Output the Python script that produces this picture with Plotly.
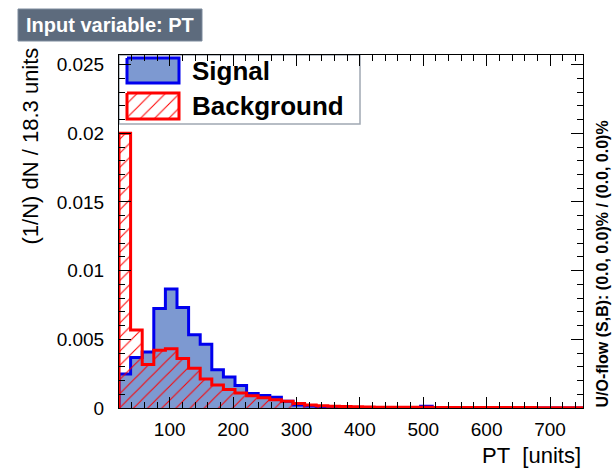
import numpy as np
import plotly.graph_objects as go

# ---- histogram definition: PT, 40 bins ----
x_min = 20.0
bin_width = 18.3
n_bins = 40

# normalised bin contents, (1/N) dN per bin
signal = [
    0.00248, 0.00368, 0.00408, 0.00724, 0.00866, 0.00732, 0.00534, 0.00464,
    0.00278, 0.00225, 0.00163, 0.00105, 0.00091, 0.00079, 0.00049, 0.00022,
    0.00014, 0.00010, 0.00008, 0.00004, 0.00003, 0.00003, 0.00002, 0.00002,
    0.00001, 0.00001, 0.00012, 0.00001, 0.00001, 0.00000, 0.00000, 0.00000,
    0.00000, 0.00000, 0.00000, 0.00000, 0.00000, 0.00000, 0.00000, 0.00000,
]
background = [
    0.02000, 0.00567, 0.00316, 0.00421, 0.00432, 0.00360, 0.00290, 0.00212,
    0.00168, 0.00134, 0.00110, 0.00090, 0.00075, 0.00060, 0.00049, 0.00032,
    0.00022, 0.00017, 0.00013, 0.00011, 0.00009, 0.00007, 0.00006, 0.00006,
    0.00005, 0.00005, 0.00005, 0.00004, 0.00004, 0.00004, 0.00004, 0.00003,
    0.00003, 0.00003, 0.00003, 0.00003, 0.00002, 0.00002, 0.00002, 0.00002,
]

x_tick_vals = [100, 200, 300, 400, 500, 600, 700]
x_tick_text = ["100", "200", "300", "400", "500", "600", "700"]
y_tick_vals = [0, 0.005, 0.01, 0.015, 0.02, 0.025]
y_tick_text = ["0", "0.005", "0.01", "0.015", "0.02", "0.025"]

legend_labels = ["Signal", "Background"]

# ---- page geometry and styling ----
W, H = 613, 472
M_L, M_R, M_T, M_B = 119, 30, 55, 64
FONT = "Liberation Sans, Arial, Helvetica, sans-serif"
SIG_FILL = "#7d99d1"
SIG_LINE = "#0000ee"
BKG_LINE = "#ff0000"
TITLE_BOX = "#5d6b7d"
TITLE_BORDER = "#7d8b9d"

edges = x_min + bin_width * np.arange(n_bins + 1)


def step_xy(values):
    """Outline of a histogram as an hv step path closed at the baseline."""
    xs = [edges[0]] + list(edges[:-1]) + [edges[-1], edges[-1]]
    ys = [0.0] + list(values) + [values[-1], 0.0]
    return xs, ys


def px(x):
    """Page pixel column -> paper x."""
    return (x - M_L) / (W - M_L - M_R)


def py(y):
    """Page pixel row -> paper y."""
    return 1 - (y - M_T) / (H - M_T - M_B)


hatch = dict(shape="/", fgcolor=BKG_LINE, bgcolor="rgba(0,0,0,0)",
             size=10, solidity=0.1, fillmode="replace")

fig = go.Figure()

sx, sy = step_xy(signal)
fig.add_trace(go.Scatter(
    x=sx, y=sy, mode="lines", line=dict(color=SIG_LINE, width=3, shape="hv"),
    fill="tozeroy", fillcolor=SIG_FILL, showlegend=False, hoverinfo="skip",
))

bx, by = step_xy(background)
fig.add_trace(go.Scatter(
    x=bx, y=by, mode="lines", line=dict(color=BKG_LINE, width=3, shape="hv"),
    fill="tozeroy", fillcolor="rgba(0,0,0,0)", fillpattern=hatch,
    showlegend=False, hoverinfo="skip",
))

# ---- legend swatches on pixel-space axes overlaying the frame ----
sw_x0, sw_x1 = 127, 179
swatches = [(58, 83), (93, 119)]
for i, (y0, y1) in enumerate(swatches):
    kw = dict(
        x=[sw_x0, sw_x1, sw_x1, sw_x0, sw_x0], y=[y0, y0, y1, y1, y0],
        xaxis="x2", yaxis="y2", mode="lines", fill="toself",
        showlegend=False, hoverinfo="skip",
    )
    if i == 0:
        kw.update(line=dict(color=SIG_LINE, width=3), fillcolor=SIG_FILL)
    else:
        kw.update(line=dict(color=BKG_LINE, width=3),
                  fillcolor="rgba(0,0,0,0)", fillpattern=hatch)
    fig.add_trace(go.Scatter(**kw))
    fig.add_annotation(
        text="<b>%s</b>" % legend_labels[i], xref="paper", yref="paper",
        x=px(190), y=py((y0 + y1) / 2), xanchor="left", yanchor="middle",
        showarrow=False, font=dict(family=FONT, size=26, color="black"),
    )

shapes = [
    # legend frame
    dict(type="rect", xref="paper", yref="paper", layer="below",
         x0=px(119), x1=px(360), y0=py(124), y1=py(55),
         fillcolor="white", line=dict(color="#a0a8b2", width=1.5)),
    # title box
    dict(type="rect", xref="paper", yref="paper",
         x0=px(18), x1=px(202), y0=py(41), y1=py(9),
         fillcolor=TITLE_BOX, line=dict(color=TITLE_BORDER, width=1)),
]

annotations = [
    dict(text="<b>Input variable: PT</b>", xref="paper", yref="paper",
         x=px(24), y=py(25), xanchor="left", yanchor="middle", showarrow=False,
         font=dict(family=FONT, size=20, color="white")),
    dict(text="(1/N) dN / 18.3 units", xref="paper", yref="paper",
         x=px(30), y=py(46), xanchor="center", yanchor="top", textangle=-90,
         showarrow=False, font=dict(family=FONT, size=22, color="black")),
    dict(text="PT\u00a0\u00a0[units]", xref="paper", yref="paper",
         x=px(583), y=py(455), xanchor="right", yanchor="middle",
         showarrow=False, font=dict(family=FONT, size=22, color="black")),
    dict(text="<b>U/O-flow (S,B): (0.0, 0.0)% / (0.0, 0.0)%</b>",
         xref="paper", yref="paper", x=px(602), y=py(410),
         xanchor="center", yanchor="bottom", textangle=-90, showarrow=False,
         font=dict(family=FONT, size=16, color="black")),
]
for a in annotations:
    fig.add_annotation(**a)

axis_common = dict(
    showline=True, linecolor="black", linewidth=1, mirror="allticks",
    ticks="inside", tickcolor="black", tickwidth=1, showgrid=False,
    zeroline=False, tickfont=dict(family=FONT, size=19, color="black"),
)

fig.update_layout(
    width=W, height=H,
    margin=dict(l=M_L, r=M_R, t=M_T, b=M_B, pad=0),
    paper_bgcolor="white", plot_bgcolor="white",
    shapes=shapes,
    xaxis=dict(
        range=[edges[0], edges[-1]], tickvals=x_tick_vals, ticktext=x_tick_text,
        ticklen=11, ticklabelstandoff=4,
        minor=dict(ticks="inside", dtick=20, tick0=0, ticklen=6,
                   tickcolor="black", tickwidth=1),
        **axis_common,
    ),
    yaxis=dict(
        range=[0, 0.0257], tickvals=y_tick_vals, ticktext=y_tick_text,
        ticklen=12, ticklabelstandoff=10,
        minor=dict(ticks="inside", dtick=0.001, tick0=0, ticklen=6,
                   tickcolor="black", tickwidth=1),
        **axis_common,
    ),
    # pixel coordinates of the frame, used for the legend swatches
    xaxis2=dict(overlaying="x", range=[M_L, W - M_R], visible=False,
                fixedrange=True),
    yaxis2=dict(overlaying="y", range=[H - M_B, M_T], visible=False,
                fixedrange=True),
)

fig.write_html("out.html")
